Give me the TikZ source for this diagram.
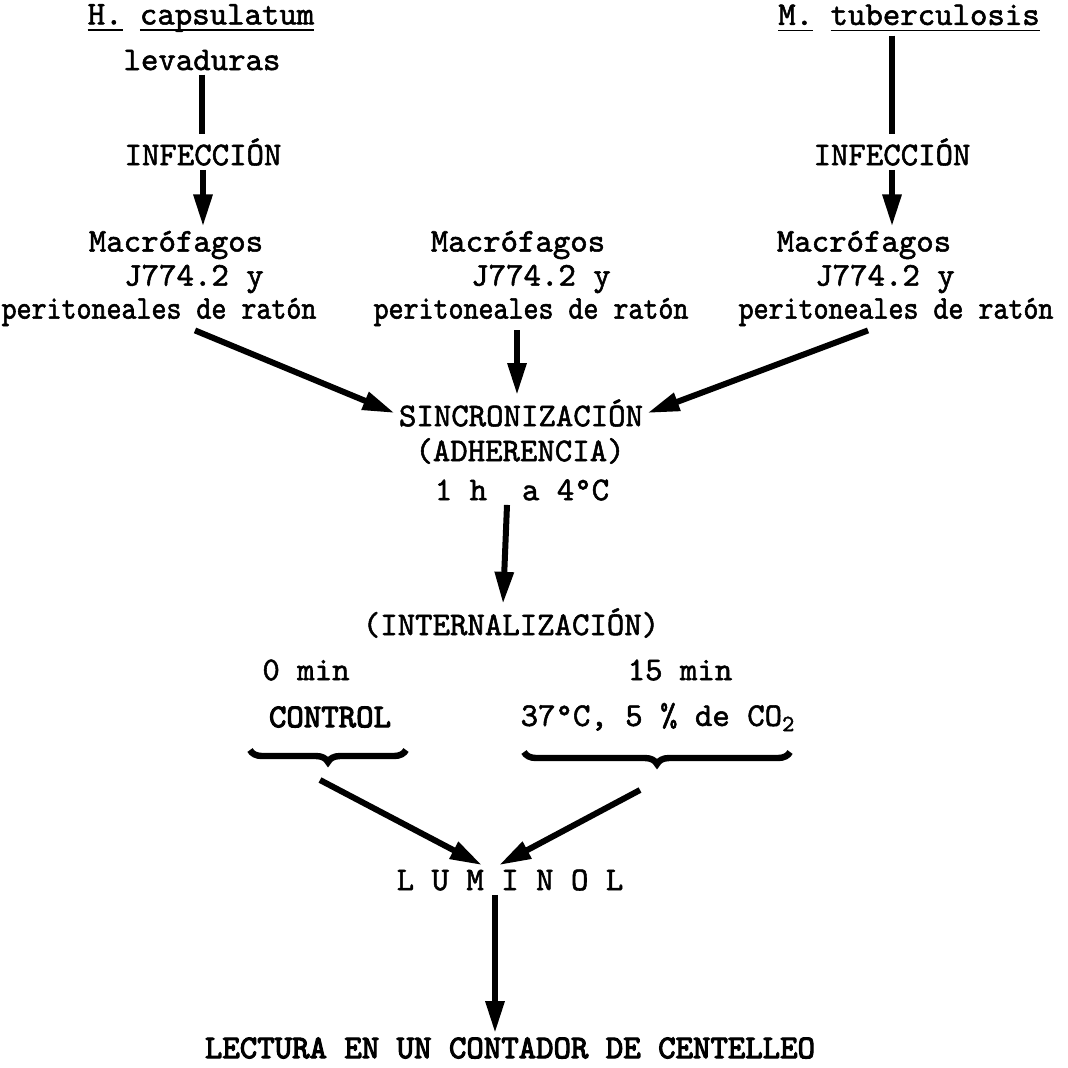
\documentclass[tikz,border=0pt]{standalone}
\usepackage{fontspec}
\usetikzlibrary{arrows.meta,calc,decorations.pathreplacing}
\newfontfamily\typew[FakeBold=1.6]{lmmono10-regular.otf}
\newfontfamily\typewnarrow[FakeBold=1.6,FakeStretch=0.86]{lmmono10-regular.otf}
\newfontfamily\typewheavy[FakeBold=3.2]{lmmono10-regular.otf}
\newcommand{\taxon}[1]{\setbox0=\hbox{#1}\rlap{\rule[-3.2pt]{\wd0}{0.9pt}}\box0\relax}

\begin{document}
\begin{tikzpicture}[x=0.5pt,y=-0.5pt,>=Latex,
 txt/.style={font=\typew\fontsize{16.6}{19}\selectfont,inner sep=2pt},
 narrowtxt/.style={font=\typewnarrow\fontsize{16.6}{19}\selectfont,inner sep=2pt},
 boldtxt/.style={font=\typewheavy\fontsize{16.6}{19}\selectfont,inner sep=2pt},
 link/.style={line width=3pt},
 flow/.style={line width=3pt,-{Triangle[length=16pt,width=9pt]}},
 bracket/.style={line width=3.2pt,decorate,decoration={brace,mirror,amplitude=6pt}}]
\useasboundingbox[fill=white] (0,0) rectangle (1068,1067);
% left column
\node[txt] (hcap) at (201,18) {\taxon{H.} \taxon{capsulatum}};
\node[txt] (levL) at (202,60) {levaduras};
\node[txt] (infL) at (203,152) {INFECCIÓN};
\node[txt] (macL) at (176,245) {Macrófagos};
\node[txt] (jL) at (194,279) {J774.2 y};
\node[narrowtxt] (periL) at (159,312) {peritoneales de ratón};
% middle column
\node[txt] (macM) at (518,245) {Macrófagos};
\node[txt] (jM) at (541,279) {J774.2 y};
\node[narrowtxt] (periM) at (531,312) {peritoneales de ratón};
% right column
\node[txt] (mtub) at (909,18) {\taxon{M.} \taxon{tuberculosis}};
\node[txt] (infR) at (892,152) {INFECCIÓN};
\node[txt] (macR) at (864,245) {Macrófagos};
\node[txt] (jR) at (885,279) {J774.2 y};
\node[narrowtxt] (periR) at (896,312) {peritoneales de ratón};
% adherence and internalization
\node[txt] (sinc) at (521,413) {SINCRONIZACIÓN};
\node[txt] (adh) at (520,451) {(ADHERENCIA)};
\node[txt] (temp) at (522,490) {1 h~~a 4°C};
\node[txt] (intern) at (511,623) {(INTERNALIZACIÓN)};
\node[txt] (t0) at (306,670) {0 min};
\node[txt] (t15) at (680,670) {15 min};
\node[boldtxt] (ctrl) at (330,717) {CONTROL};
\node[txt] (cond) at (658,717) {37°C, 5 \% de CO\textsubscript{2}};
\node[txt] (lum) at (510,880) {L U M I N O L};
\node[boldtxt] (lect) at (510,1048) {LECTURA EN UN CONTADOR DE CENTELLEO};
% braces
\draw[bracket] (250,750) -- (406,750);
\draw[bracket] (524,752) -- (790,752);
\coordinate (bL) at (320,780);
\coordinate (bR) at (640,790);
% connectors
\draw[link] (levL.south) -- (levL.south |- infL.north);
\draw[flow] (infL.south) -- (infL.south |- macL.north);
\draw[link] (infR.north |- mtub.south) -- (infR.north);
\draw[flow] (infR.south) -- (infR.south |- macR.north);
\draw[flow] ($(periL.south)+(36,0)$) -- (sinc.west);
\draw[flow] ($(periM.south)+(-14,0)$) -- ($(sinc.north)+(-4,0)$);
\draw[flow] ($(periR.south)+(-28,0)$) -- (sinc.east);
\draw[flow] ($(temp.south)+(-15,0)$) -- ($(intern.north)+(-8,0)$);
\draw[flow] (bL) -- ($(lum.north)+(-28,0)$);
\draw[flow] (bR) -- ($(lum.north)+(-11,0)$);
\draw[flow] ($(lum.south)+(-15,0)$) -- ($(lect.north)+(-15,0)$);
\end{tikzpicture}
\end{document}
